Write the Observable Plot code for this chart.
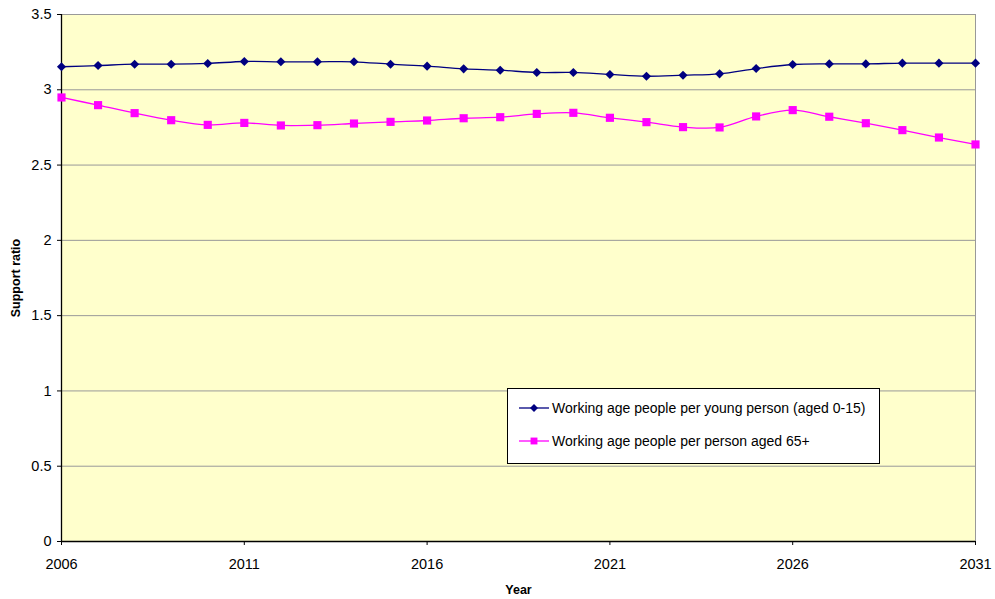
<!DOCTYPE html>
<html>
<head>
<meta charset="utf-8">
<script src="https://cdn.jsdelivr.net/npm/d3@7"></script>
<script src="https://cdn.jsdelivr.net/npm/@observablehq/plot@0.6"></script>
<style>
  body { margin: 0; background: #fff; font-family: "Liberation Sans", Arial, sans-serif; }
  #chart { position: relative; width: 995px; height: 599px; }
  #chart svg [aria-label$="axis label"] text { font-weight: bold; font-size: 12.5px; }
  #legend {
    position: absolute; left: 507px; top: 388px; width: 373px; height: 76px;
    border: 1px solid #000; background: #fff; box-sizing: border-box;
    font-size: 14px; color: #000;
  }
  .item { position: absolute; left: 11px; display: flex; align-items: center; }
  .item svg { margin-right: 2px; }
</style>
</head>
<body>
<div id="chart">
  <div id="legend"></div>
</div>
<script>
// values
const years = [2006, 2007, 2008, 2009, 2010, 2011, 2012, 2013, 2014, 2015, 2016, 2017, 2018,
               2019, 2020, 2021, 2022, 2023, 2024, 2025, 2026, 2027, 2028, 2029, 2030, 2031]
const young = [3.153, 3.161, 3.170, 3.170, 3.175, 3.188, 3.186, 3.186, 3.186, 3.170, 3.157, 3.139, 3.130,
               3.115, 3.115, 3.102, 3.090, 3.097, 3.106, 3.141, 3.168, 3.172, 3.172, 3.177, 3.177, 3.177]
const old = [2.949, 2.898, 2.845, 2.798, 2.767, 2.780, 2.763, 2.765, 2.776, 2.787, 2.796, 2.811, 2.818,
             2.840, 2.847, 2.814, 2.785, 2.752, 2.750, 2.823, 2.865, 2.821, 2.778, 2.732, 2.683, 2.637]
const xTicks = [2006, 2011, 2016, 2021, 2026, 2031]
const yTicks = [0, 0.5, 1, 1.5, 2, 2.5, 3, 3.5]

const series = [
    { name: "Working age people per young person (aged 0-15)", values: young, color: "#000080", symbol: "diamond2", r: 4.1 },
    { name: "Working age people per person aged 65+", values: old, color: "#FF00FF", symbol: "square", r: 4.6 }
]

const rows = series.flatMap(s => years.map((y, i) => ({ year: y, value: s.values[i], name: s.name })))

let chart = Plot.plot({
    width: 995,
    height: 599,
    marginLeft: 61,
    marginRight: 20,
    marginTop: 14,
    marginBottom: 58,
    style: { fontFamily: '"Liberation Sans", Arial, sans-serif', fontSize: "14.5px", color: "#000", background: "transparent" },
    x: { domain: [2006, 2031] },
    y: { domain: [0, 3.5] },
    marks: [
        Plot.frame({ fill: "#FFFFCC", stroke: "#999" }),
        Plot.ruleY(yTicks.slice(1), { stroke: "#999", strokeWidth: 1 }),
        Plot.ruleY([0], { stroke: "#000", strokeWidth: 1.3 }),
        Plot.ruleX([2006], { stroke: "#000", strokeWidth: 1.3 }),
        Plot.axisY({ ticks: yTicks, tickFormat: d => String(d), tickSize: 4, tickPadding: 6,
                     label: "Support ratio", labelAnchor: "center", labelArrow: "none", labelOffset: 50 }),
        Plot.axisX({ ticks: xTicks, tickFormat: d => String(d), tickSize: 4, tickPadding: 13,
                     label: "Year", labelAnchor: "center", labelArrow: "none", labelOffset: 52 }),
        ...series.map(s => Plot.line(rows.filter(d => d.name == s.name), {
            x: "year", y: "value", stroke: s.color, strokeWidth: 1.3, curve: "catmull-rom"
        })),
        ...series.map(s => Plot.dot(rows.filter(d => d.name == s.name), {
            x: "year", y: "value", fill: s.color, symbol: s.symbol, r: s.r, stroke: "none"
        }))
    ]
})

d3.select('#chart').insert(() => chart, '#legend')

// legend
series.forEach((s, i) => {
    let item = d3.select('#legend').append('div').attr('class', 'item').style('top', (i == 0 ? 11 : 44) + 'px')
    let sw = item.append('svg').attr('width', 31).attr('height', 16)
    sw.append('line').attr('x1', 0).attr('x2', 30).attr('y1', 8).attr('y2', 8).attr('stroke', s.color).attr('stroke-width', 1.3)
    let sym = s.symbol == "diamond2" ? d3.symbol(d3.symbolDiamond2, 40) : d3.symbol(d3.symbolSquare2, 60)
    sw.append('path').attr('d', sym()).attr('transform', 'translate(15,8)').attr('fill', s.color)
    item.append('span').text(s.name)
})
</script>
</body>
</html>
